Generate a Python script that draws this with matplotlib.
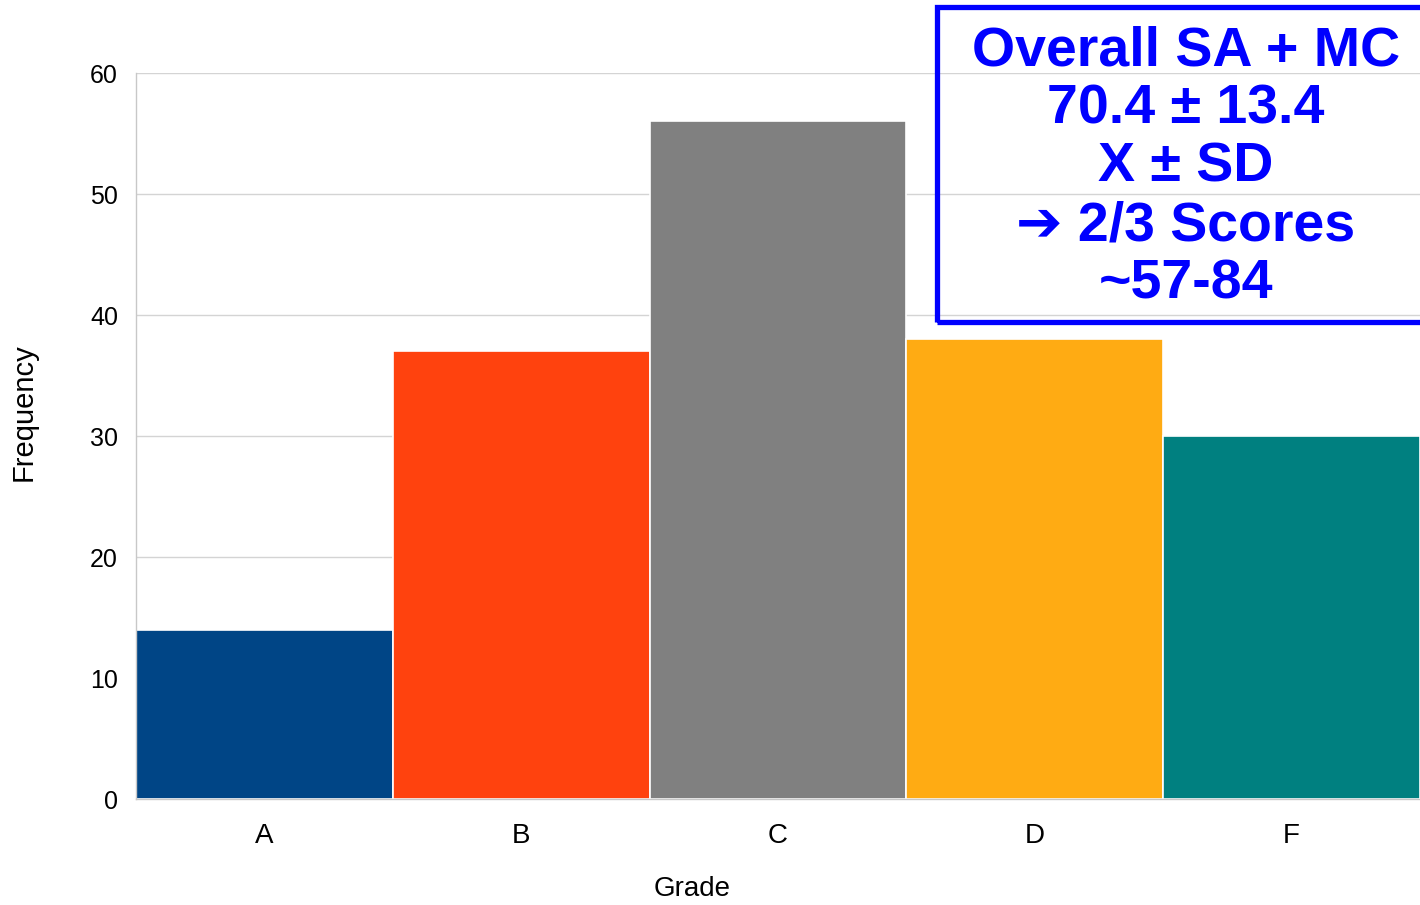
import matplotlib
matplotlib.use("Agg")
import matplotlib.pyplot as plt
from matplotlib.patches import Rectangle

# grade distribution
grades = ["A", "B", "C", "D", "F"]
counts = [14, 37, 56, 38, 30]
bar_colors = ["#004586", "#ff420e", "#808080", "#ffab13", "#008080"]

yticks = [0, 10, 20, 30, 40, 50, 60]

# summary box lines
box_lines = ["Overall SA + MC", "70.4 \u00b1 13.4", "X \u00b1 SD",
             "\u2794 2/3 Scores", "~57-84"]

W, H = 1420, 905
fig = plt.figure(figsize=(W / 100, H / 100), dpi=100)
ax = fig.add_axes([136 / W, 1 - 799 / H, 1 - 136 / W, (799 - 73) / H])

font = ["Liberation Sans", "DejaVu Sans"]

x = range(len(grades))
ax.bar(x, counts, width=1.0, color=bar_colors, edgecolor="white",
       linewidth=1.2, zorder=2)

ax.set_xlim(-0.5, len(grades) - 0.5)
ax.set_ylim(0, 60)
ax.set_yticks(yticks)
ax.set_xticks(list(x))
ax.set_xticklabels(grades)
ax.grid(axis="y", color="#d4d4d4", linewidth=1, zorder=0)
ax.set_axisbelow(True)
ax.tick_params(axis="y", length=0, labelsize=18, pad=13)
ax.tick_params(axis="x", length=0, labelsize=20, pad=17)
for lab in ax.get_xticklabels() + ax.get_yticklabels():
    lab.set_family(font)

for side in ["top", "right"]:
    ax.spines[side].set_visible(False)
for side in ["left", "bottom"]:
    ax.spines[side].set_color("#c8c8c8")
    ax.spines[side].set_linewidth(1)

ax.set_xlabel("Grade", fontsize=20, family=font, va="center")
ax.set_ylabel("Frequency", fontsize=21, family=font, va="center")
ax.xaxis.set_label_coords((692 - 136) / 1284, (799 - 889) / 726)
ax.yaxis.set_label_coords((24 - 136) / 1284, (799 - 412) / 726)

# blue framed note in the upper right
fig.patches.append(Rectangle((937 / W, 1 - 322 / H), 1.0, (322 - 7) / H,
                             transform=fig.transFigure, fill=False,
                             edgecolor="#0000ff", linewidth=3.8, zorder=5))

baselines = [65, 123.5, 182, 240, 298.5]
for txt, yb in zip(box_lines, baselines):
    fig.text(1186 / W, 1 - yb / H, txt, ha="center", va="baseline",
             fontsize=40, fontweight="bold", color="#0000ff", family=font)

fig.savefig("out.png", dpi=100)
